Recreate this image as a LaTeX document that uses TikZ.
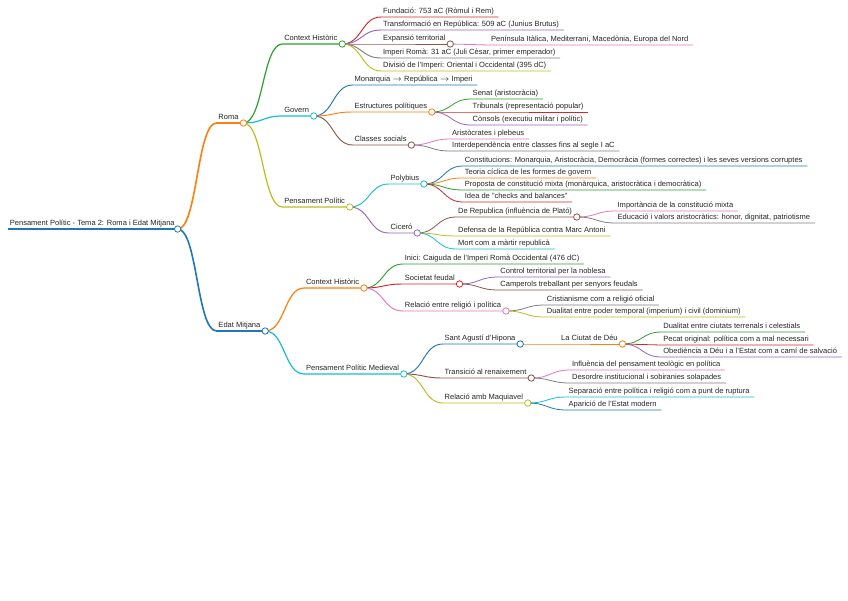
\documentclass[tikz,border=0pt]{standalone}
\usepackage{fontspec}
\setmainfont{Liberation Sans}
\usepackage{xcolor}
\usepackage{tikz}
\usetikzlibrary{calc}
\definecolor{mblue}{HTML}{1F77B4}
\definecolor{morange}{HTML}{FF7F0E}
\definecolor{mgreen}{HTML}{2CA02C}
\definecolor{mred}{HTML}{D62728}
\definecolor{mpurple}{HTML}{9467BD}
\definecolor{mbrown}{HTML}{8C564B}
\definecolor{mpink}{HTML}{E377C2}
\definecolor{mgray}{HTML}{7F7F7F}
\definecolor{molive}{HTML}{BCBD22}
\definecolor{mcyan}{HTML}{17BECF}
\begin{document}
\begin{tikzpicture}[x=0.75pt,y=-0.75pt,font=\fontsize{5.65}{6.5}\selectfont,
  topic/.style={anchor=base west,inner xsep=1.2pt,inner ysep=0pt,text=black!85},
  knob/.style={circle,draw,fill=white,line width=0.6pt,inner sep=0pt,minimum size=4.8pt}]
\path[fill=white,use as bounding box] (0,0) rectangle (848,600);
\coordinate (root-l) at (8,229);
\node[topic] (root-t) at ([yshift=2.4pt]root-l) {Pensament Polític - Tema 2: Roma i Edat Mitjana};
\coordinate (root) at ($(root-t.base east |- root-l)+(0.8pt,0)$);
\draw[mblue,line width=1.4pt] (root-l) -- (root);
\foreach \p/\n/\y/\c/\t/\w in {
  root/roma/123/morange/{Roma}/1.2pt, root/edat/331/mblue/{Edat Mitjana}/1.2pt,
  roma/rch/44/mgreen/{Context Històric}/0.9pt, roma/gov/116/mcyan/{Govern}/0.9pt,
  roma/rpp/207/molive/{Pensament Polític}/0.9pt, edat/ech/288/morange/{Context Històric}/0.9pt,
  edat/epp/374/mcyan/{Pensament Polític Medieval}/0.9pt,
  rch/fund/17/mred/{Fundació: 753 aC (Ròmul i Rem)}/0.7pt,
  rch/trans/30/mpurple/{Transformació en República: 509 aC (Junius Brutus)}/0.7pt,
  rch/exp/44/mbrown/{Expansió territorial}/0.7pt,
  rch/imp/58/mgray/{Imperi Romà: 31 aC (Juli Cèsar, primer emperador)}/0.7pt,
  rch/div/71/molive/{Divisió de l'Imperi: Oriental i Occidental (395 dC)}/0.7pt,
  gov/mon/85/mblue/{Monarquia $\rightarrow$ República $\rightarrow$ Imperi}/0.7pt,
  gov/estr/112/morange/{Estructures polítiques}/0.7pt,
  gov/cls/145/mbrown/{Classes socials}/0.7pt,
  rpp/pol/184/mcyan/{Polybius}/0.7pt, rpp/cic/233/mpurple/{Ciceró}/0.7pt,
  ech/inici/264/mgreen/{Inici: Caiguda de l'Imperi Romà Occidental (476 dC)}/0.7pt,
  ech/feud/284/mred/{Societat feudal}/0.7pt,
  ech/rel/311/mpink/{Relació entre religió i política}/0.7pt,
  epp/agus/344/mblue/{Sant Agustí d'Hipona}/0.7pt,
  epp/ren/378/mbrown/{Transició al renaixement}/0.7pt,
  epp/maq/403/molive/{Relació amb Maquiavel}/0.7pt,
  exp/pen/45/mpink/{Península Itàlica, Mediterrani, Macedònia, Europa del Nord}/0.6pt,
  estr/senat/99/mgreen/{Senat (aristocràcia)}/0.6pt,
  estr/trib/112/mred/{Tribunals (representació popular)}/0.6pt,
  estr/cons/125/mpurple/{Cònsols (executiu militar i polític)}/0.6pt,
  cls/arist/139/mpink/{Aristòcrates i plebeus}/0.6pt,
  cls/inter/151/mgray/{Interdependència entre classes fins al segle I aC}/0.6pt,
  pol/const/166/mblue/{Constitucions: Monarquia, Aristocràcia, Democràcia (formes correctes) i les seves versions corruptes}/0.6pt,
  pol/cicl/178/morange/{Teoria cíclica de les formes de govern}/0.6pt,
  pol/mixta/190/mgreen/{Proposta de constitució mixta (monàrquica, aristocràtica i democràtica)}/0.6pt,
  pol/check/202/mred/{Idea de "checks and balances"}/0.6pt,
  cic/derep/217/mbrown/{De Republica (influència de Plató)}/0.6pt,
  cic/def/236/molive/{Defensa de la República contra Marc Antoni}/0.6pt,
  cic/mort/249/mcyan/{Mort com a màrtir republicà}/0.6pt,
  derep/impm/211/mpink/{Importància de la constitució mixta}/0.6pt,
  derep/educ/223/mgray/{Educació i valors aristocràtics: honor, dignitat, patriotisme}/0.6pt,
  feud/ctrl/277/mpurple/{Control territorial per la noblesa}/0.6pt,
  feud/camp/290/mbrown/{Camperols treballant per senyors feudals}/0.6pt,
  rel/crist/305/mgray/{Cristianisme com a religió oficial}/0.6pt,
  rel/dual/317/molive/{Dualitat entre poder temporal (imperium) i civil (dominium)}/0.6pt,
  agus/ciutat/344/morange/{La Ciutat de Déu}/0.6pt,
  ciutat/dct/332/mgreen/{Dualitat entre ciutats terrenals i celestials}/0.6pt,
  ciutat/pecat/345/mred/{Pecat original: política com a mal necessari}/0.6pt,
  ciutat/obed/357/mpurple/{Obediència a Déu i a l'Estat com a camí de salvació}/0.6pt,
  ren/infl/370/mpink/{Influència del pensament teològic en política}/0.6pt,
  ren/desor/383/mgray/{Desordre institucional i sobiranies solapades}/0.6pt,
  maq/sep/397/mcyan/{Separació entre política i religió com a punt de ruptura}/0.6pt,
  maq/estat/410/mblue/{Aparició de l'Estat modern}/0.6pt}{
  \coordinate (\n-l) at ($(\p |- 0,\y)+(39,0)$);
  \node[topic] (\n-t) at ([yshift=2.4pt]\n-l) {\t};
  \coordinate (\n) at ($(\n-t.base east |- \n-l)+(2.2pt,0)$);
  \draw[\c,line width=\w] (\p) .. controls +(20,0) and +(-20,0) .. (\n-l) -- (\n);
}
\foreach \n/\c in {root/mblue,roma/morange,edat/mblue,rch/mgreen,gov/mcyan,rpp/molive,
  ech/morange,epp/mcyan,exp/mbrown,estr/morange,cls/mbrown,pol/mcyan,cic/mpurple,
  feud/mred,rel/mpink,agus/mblue,ren/mbrown,maq/molive,derep/mbrown,ciutat/morange}
  \node[knob,draw=\c] (\n-o) at (\n) {};
\end{tikzpicture}
\end{document}
